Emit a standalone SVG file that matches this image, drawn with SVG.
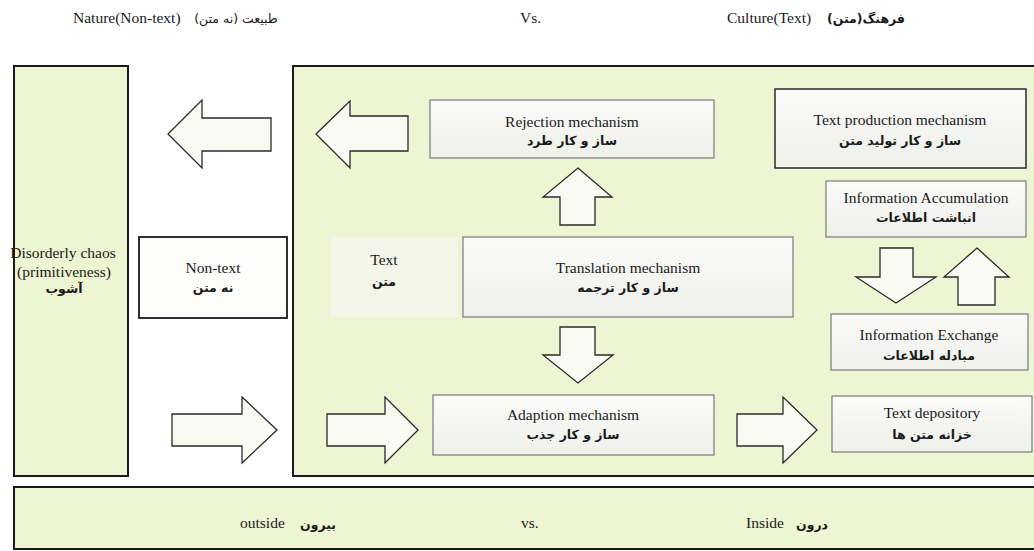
<svg xmlns="http://www.w3.org/2000/svg" width="1034" height="551" viewBox="0 0 1034 551">
<style>
.en{font-family:"Liberation Serif","DejaVu Serif",serif;font-size:15.5px;fill:#1a1a1a}
.fa{font-family:"DejaVu Sans","Noto Sans",sans-serif;font-size:12.5px;font-weight:bold;fill:#1a1a1a}
.panel{fill:#eef5d2;stroke:#1a1a1a;stroke-width:2}
.box{fill:url(#boxg);stroke:#7a7a7a;stroke-width:1.2}
.boxd{fill:url(#boxg);stroke:#2a2a2a;stroke-width:1.5}
.arr{fill:#f9fbf3;stroke:#2a2a2a;stroke-width:1.3;stroke-linejoin:miter}
</style>
<defs>
<linearGradient id="boxg" x1="0" y1="0" x2="0" y2="1">
<stop offset="0" stop-color="#fbfbf9"/>
<stop offset="1" stop-color="#eef0ea"/>
</linearGradient>
</defs>
<rect width="1034" height="551" fill="#ffffff"/>

<g id="header">
<text class="en" x="73" y="23">Nature(Non-text)</text>
<text class="fa" x="236" y="23" text-anchor="middle" style="font-weight:normal">طبیعت (نه متن)</text>
<text class="en" x="520" y="23">Vs.</text>
<text class="en" x="727" y="23">Culture(Text)</text>
<text class="fa" x="866" y="23" text-anchor="middle">(متن)فرهنگ</text>
</g>

<g id="outside-panel">
<rect class="panel" x="14" y="66" width="114" height="410"/>
<text class="en" x="63" y="258" text-anchor="middle">Disorderly chaos</text>
<text class="en" x="64" y="277" text-anchor="middle">(primitiveness)</text>
<text class="fa" x="64" y="293" text-anchor="middle">آشوب</text>
</g>

<g id="non-text">
<rect x="139" y="237" width="148" height="81" fill="#fdfdfb" stroke="#1a1a1a" stroke-width="1.8"/>
<text class="en" x="213" y="273" text-anchor="middle">Non-text</text>
<text class="fa" x="213" y="292" text-anchor="middle">نه متن</text>
</g>

<g id="inside-panel">
<rect class="panel" x="293" y="66" width="750" height="410"/>
</g>

<g id="text-label">
<rect x="330" y="237" width="128" height="80" fill="#f3f6e8"/>
<text class="en" x="384" y="265" text-anchor="middle">Text</text>
<text class="fa" x="384" y="286" text-anchor="middle">متن</text>
</g>

<g id="rejection">
<rect class="box" x="430" y="100" width="284" height="58"/>
<text class="en" x="572" y="127" text-anchor="middle">Rejection mechanism</text>
<text class="fa" x="572" y="145" text-anchor="middle">ساز و کار طرد</text>
</g>

<g id="translation">
<rect class="box" x="463" y="237" width="330" height="80"/>
<text class="en" x="628" y="273" text-anchor="middle">Translation mechanism</text>
<text class="fa" x="628" y="292" text-anchor="middle">ساز و کار ترجمه</text>
</g>

<g id="adaption">
<rect class="box" x="433" y="395" width="281" height="60"/>
<text class="en" x="573" y="420" text-anchor="middle">Adaption mechanism</text>
<text class="fa" x="573" y="439" text-anchor="middle">ساز و کار جذب</text>
</g>

<g id="text-production">
<rect class="boxd" x="775" y="89" width="251" height="79"/>
<text class="en" x="900" y="125" text-anchor="middle">Text production mechanism</text>
<text class="fa" x="900" y="145" text-anchor="middle">ساز و کار تولید متن</text>
</g>

<g id="info-accumulation">
<rect class="box" x="826" y="181" width="200" height="56"/>
<text class="en" x="926" y="203" text-anchor="middle">Information Accumulation</text>
<text class="fa" x="926" y="222" text-anchor="middle">انباشت اطلاعات</text>
</g>

<g id="info-exchange">
<rect class="box" x="831" y="314" width="197" height="56"/>
<text class="en" x="929" y="340" text-anchor="middle">Information Exchange</text>
<text class="fa" x="929" y="360" text-anchor="middle">مبادله اطلاعات</text>
</g>

<g id="text-depository">
<rect class="box" x="832" y="396" width="200" height="56"/>
<text class="en" x="932" y="418" text-anchor="middle">Text depository</text>
<text class="fa" x="932" y="439" text-anchor="middle">خزانه متن ها</text>
</g>

<g id="connectors">
<polygon class="arr" points="168,134 202,100 202,118 271,118 271,151 202,151 202,168"/>
<polygon class="arr" points="316,134 350,101 350,116 408,116 408,151 350,151 350,168"/>
<polygon class="arr" points="578,168 612,197 595,197 595,225 560,225 560,197 543,197"/>
<polygon class="arr" points="560,327 595,327 595,355 613,355 578,383 543,355 560,355"/>
<polygon class="arr" points="172,414 242,414 242,397 277,430 242,463 242,446 172,446"/>
<polygon class="arr" points="327,414 385,414 385,397 418,430 385,463 385,446 327,446"/>
<polygon class="arr" points="737,414 783,414 783,397 817,430 783,463 783,446 737,446"/>
<polygon class="arr" points="880,248 913,248 913,277 936,277 896,303 856,277 880,277"/>
<polygon class="arr" points="977,248 1009,277 995,277 995,305 958,305 958,277 944,277"/>
</g>

<g id="bottom-bar">
<rect class="panel" x="14" y="487" width="1030" height="62"/>
<text class="en" x="240" y="528">outside</text>
<text class="fa" x="318" y="529" text-anchor="middle">بیرون</text>
<text class="en" x="521" y="528">vs.</text>
<text class="en" x="746" y="528">Inside</text>
<text class="fa" x="812" y="529" text-anchor="middle">درون</text>
</g>
</svg>
